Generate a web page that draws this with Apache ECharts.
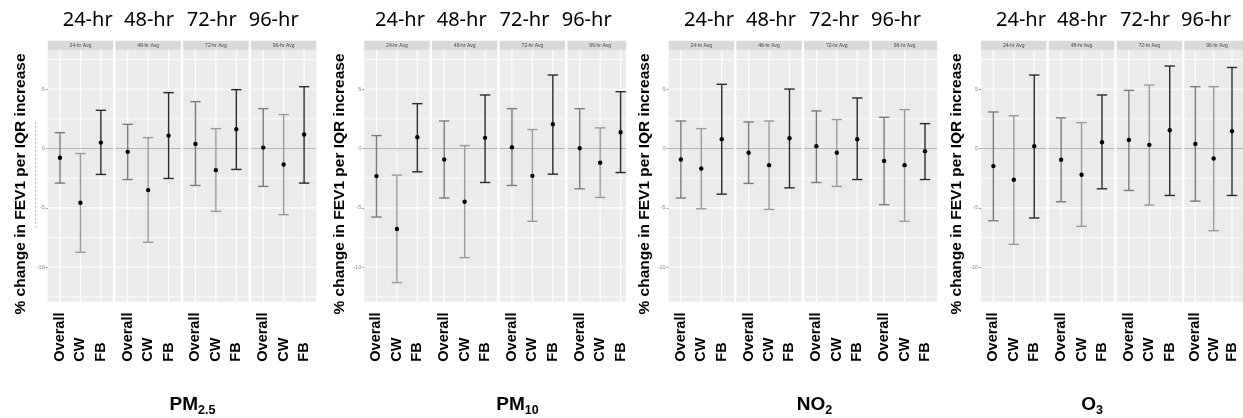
<!DOCTYPE html>
<html>
<head>
<meta charset="utf-8">
<script src="https://cdn.jsdelivr.net/npm/echarts@6/dist/echarts.min.js"></script>
<style>
html,body{margin:0;padding:0;background:#fff;}
#chart{width:1243px;height:418px;}
</style>
</head>
<body>
<div id="chart"></div>
<script>
// ---------------- DATA ----------------
const categories = ['Overall', 'CW', 'FB'];
const windows = ['24-hr', '48-hr', '72-hr', '96-hr'];
const stripLabels = ['24-hr Avg', '48-hr Avg', '72-hr Avg', '96-hr Avg'];
const pollutantRich = ['{a|PM}{b|2.5}', '{a|PM}{b|10}', '{a|NO}{b|2}', '{a|O}{b|3}'];
const yTicks = [-10, -5, 0, 5];
const yMinor = [-12.5, -7.5, -2.5, 2.5, 7.5];
const yLabel = '% change in FEV1 per IQR increase';

// rows = averaging window (24,48,72,96 hr); cols = Overall, CW, FB
const pm25Est = [[-0.78, -4.57, 0.50], [-0.28, -3.50, 1.09], [0.39, -1.82, 1.62], [0.08, -1.34, 1.18]];
const pm25Lo  = [[-2.91, -8.74, -2.18], [-2.61, -7.90, -2.52], [-3.11, -5.29, -1.76], [-3.19, -5.57, -2.91]];
const pm25Hi  = [[1.34, -0.42, 3.22], [2.04, 0.92, 4.71], [3.95, 1.68, 4.96], [3.36, 2.86, 5.21]];

const pm10Est = [[-2.32, -6.78, 0.95], [-0.92, -4.48, 0.90], [0.11, -2.30, 2.04], [0.03, -1.20, 1.37]];
const pm10Lo  = [[-5.77, -11.29, -1.96], [-4.17, -9.19, -2.86], [-3.11, -6.13, -2.16], [-3.39, -4.12, -2.02]];
const pm10Hi  = [[1.09, -2.24, 3.78], [2.32, 0.25, 4.51], [3.36, 1.60, 6.19], [3.36, 1.74, 4.79]];

const no2Est = [[-0.92, -1.68, 0.78], [-0.36, -1.40, 0.87], [0.20, -0.36, 0.78], [-1.04, -1.40, -0.22]];
const no2Lo  = [[-4.17, -5.07, -3.84], [-2.94, -5.13, -3.31], [-2.86, -3.19, -2.61], [-4.73, -6.13, -2.61]];
const no2Hi  = [[2.32, 1.68, 5.41], [2.24, 2.32, 5.01], [3.17, 2.44, 4.26], [2.63, 3.28, 2.10]];

const o3Est = [[-1.48, -2.63, 0.20], [-0.95, -2.21, 0.53], [0.73, 0.31, 1.54], [0.39, -0.84, 1.46]];
const o3Lo  = [[-6.08, -8.07, -5.85], [-4.48, -6.55, -3.39], [-3.53, -4.76, -3.95], [-4.43, -6.92, -3.95]];
const o3Hi  = [[3.08, 2.77, 6.19], [2.58, 2.18, 4.51], [4.90, 5.35, 6.95], [5.21, 5.21, 6.83]];

// ---------------- LAYOUT ----------------
const groups = [
  {est: pm25Est, lo: pm25Lo, hi: pm25Hi},
  {est: pm10Est, lo: pm10Lo, hi: pm10Hi},
  {est: no2Est, lo: no2Lo, hi: no2Hi},
  {est: o3Est, lo: o3Lo, hi: o3Hi}
];
const groupLeft = [47.7, 364.2, 668.6, 981.1];
const facetStep = 67.75;
const facetW = 65.4;
const clipW = {'1-3': 58.7};          // PM10 96-hr panel is cropped in the figure
const gridTop = 50, gridH = 251.7, stripTop = 40.7, stripH = 9.3;
const yMin = -12.9, yMax = 8.3;
const topLabelX = [[87.7, 149, 211.7, 273.7], [400, 461.7, 524.5, 586.7], [709, 771, 834, 896], [1021, 1082, 1145, 1206]];
const yTitleX = [20.5, 340, 645, 956.5];
const bottomTitleX = [192.5, 517.5, 814.5, 1092];
const barColors = ['#7a7a7a', '#9a9a9a', '#2a2a2a'];

const grids = [], xAxes = [], yAxes = [], series = [], graphics = [];

function renderGridLines(params, api) {
  const kind = api.value(0), v = api.value(1);
  const cs = params.coordSys;
  if (kind < 2) {
    const y = api.coord([1, v])[1];
    return {type: 'line', shape: {x1: cs.x, y1: y, x2: cs.x + cs.width, y2: y},
      style: {stroke: '#ffffff', lineWidth: kind === 0 ? 1.1 : 0.8}};
  }
  const x = api.coord([v, 0])[0];
  return {type: 'line', shape: {x1: x, y1: cs.y, x2: x, y2: cs.y + cs.height},
    style: {stroke: '#ffffff', lineWidth: 1.1}};
}
function renderZero(params, api) {
  const cs = params.coordSys;
  const y = api.coord([1, 0])[1];
  return {type: 'line', shape: {x1: cs.x, y1: y, x2: cs.x + cs.width, y2: y},
    style: {stroke: '#b4b4b4', lineWidth: 1}};
}
function renderErr(params, api) {
  const c = api.value(0), est = api.value(1), lo = api.value(2), hi = api.value(3);
  const pLo = api.coord([c, lo]), pHi = api.coord([c, hi]), pE = api.coord([c, est]);
  const col = barColors[Math.round(c) - 1];
  const hw = 5.2;
  const st = {stroke: col, lineWidth: 1.4};
  return {type: 'group', children: [
    {type: 'line', shape: {x1: pLo[0], y1: pLo[1], x2: pHi[0], y2: pHi[1]}, style: st},
    {type: 'line', shape: {x1: pLo[0] - hw, y1: pLo[1], x2: pLo[0] + hw, y2: pLo[1]}, style: st},
    {type: 'line', shape: {x1: pHi[0] - hw, y1: pHi[1], x2: pHi[0] + hw, y2: pHi[1]}, style: st},
    {type: 'circle', shape: {cx: pE[0], cy: pE[1], r: 2.2}, style: {fill: '#000'}}
  ]};
}

let gi = 0;
groups.forEach((g, p) => {
  windows.forEach((w, k) => {
    const left = groupLeft[p] + k * facetStep;
    const width = clipW[p + '-' + k] || facetW;
    const xMax = 0.4 + 3.2 * width / facetW;
    grids.push({left: left, top: gridTop, width: width, height: gridH, show: true,
      backgroundColor: '#EBEBEB', borderWidth: 0});
    xAxes.push({type: 'value', gridIndex: gi, min: 0.4, max: xMax,
      axisLine: {show: false}, splitLine: {show: false},
      axisTick: {show: true, customValues: [1, 2, 3], length: 2, lineStyle: {color: '#999'}},
      axisLabel: {show: true, customValues: [1, 2, 3], formatter: v => categories[Math.round(v) - 1],
        rotate: 90, align: 'left', verticalAlign: 'middle', margin: 60,
        fontFamily: 'Liberation Sans', fontWeight: 'bold', fontSize: 14.5, color: '#000'}});
    yAxes.push({type: 'value', gridIndex: gi, min: yMin, max: yMax,
      axisLine: {show: false}, splitLine: {show: false},
      axisTick: {show: k === 0, customValues: yTicks, length: 2, lineStyle: {color: '#999'}},
      axisLabel: {show: k === 0, customValues: yTicks, fontSize: 5.5, color: '#8a8a8a', margin: 3,
        fontFamily: 'Liberation Sans'}});
    const lineData = [];
    yTicks.forEach(v => lineData.push([0, v]));
    yMinor.forEach(v => lineData.push([1, v]));
    [1, 2, 3].forEach(v => lineData.push([2, v]));
    series.push({type: 'custom', xAxisIndex: gi, yAxisIndex: gi, z: 1, silent: true,
      renderItem: renderGridLines, data: lineData});
    series.push({type: 'custom', xAxisIndex: gi, yAxisIndex: gi, z: 2, silent: true,
      renderItem: renderZero, data: [[1, 0]]});
    const errData = categories.map((c, ci) => [ci + 1, g.est[k][ci], g.lo[k][ci], g.hi[k][ci]]);
    series.push({type: 'custom', xAxisIndex: gi, yAxisIndex: gi, z: 3, silent: true,
      renderItem: renderErr, encode: {x: 0, y: [1, 2, 3]}, data: errData});
    // facet strip
    graphics.push({type: 'rect', shape: {x: left, y: stripTop, width: width, height: stripH},
      style: {fill: '#D9D9D9'}, silent: true});
    graphics.push({type: 'text', x: left + facetW / 2, y: stripTop + stripH / 2,
      style: {text: stripLabels[k], font: '5px "Liberation Sans"', fill: '#444',
        align: 'center', verticalAlign: 'middle', textAlign: 'center', textVerticalAlign: 'middle'}, silent: true});
    // big window label
    graphics.push({type: 'text', x: topLabelX[p][k], y: 20.5,
      style: {text: w, font: '20px "Noto Sans"', fill: '#000',
        align: 'center', verticalAlign: 'middle', textAlign: 'center', textVerticalAlign: 'middle'}, silent: true});
    gi++;
  });
  graphics.push({type: 'text', x: yTitleX[p], y: 184, rotation: Math.PI / 2,
    style: {text: yLabel, font: 'bold 15.5px "Liberation Sans"', fill: '#000',
      align: 'center', verticalAlign: 'middle', textAlign: 'center', textVerticalAlign: 'middle'}, silent: true});
  graphics.push({type: 'text', x: bottomTitleX[p], y: 405,
    style: {text: pollutantRich[p], fill: '#000',
      rich: {
        a: {font: 'bold 19px "Liberation Sans"', fill: '#000', lineHeight: 24, verticalAlign: 'middle'},
        b: {font: 'bold 12.5px "Liberation Sans"', fill: '#000', lineHeight: 2, verticalAlign: 'bottom'}
      },
      align: 'center', verticalAlign: 'middle', textAlign: 'center', textVerticalAlign: 'middle'}, silent: true});
});
// faint dotted artefact line next to the first panel
graphics.push({type: 'line', shape: {x1: 35.5, y1: 122, x2: 35.5, y2: 228},
  style: {stroke: '#a9c9d1', lineWidth: 1, lineDash: [2, 2]}, silent: true});

const chart = echarts.init(document.getElementById('chart'), null, {renderer: 'canvas'});
chart.setOption({
  animation: false,
  backgroundColor: '#ffffff',
  grid: grids,
  xAxis: xAxes,
  yAxis: yAxes,
  series: series,
  graphic: graphics
});
</script>
</body>
</html>
